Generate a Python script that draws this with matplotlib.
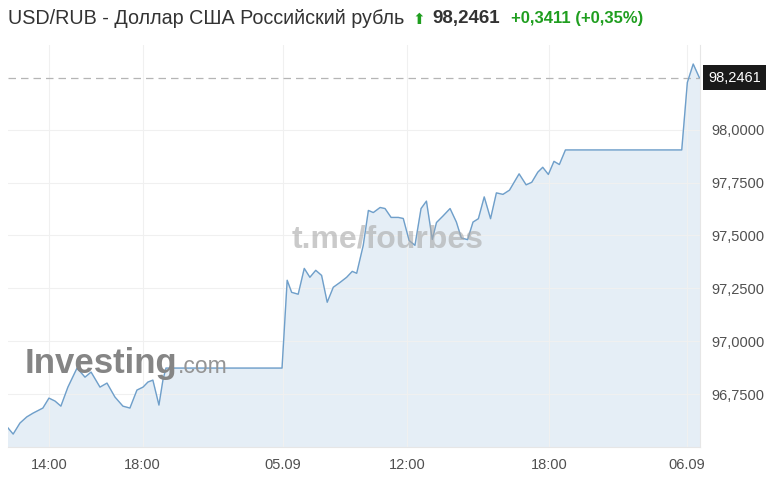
import matplotlib
matplotlib.use("Agg")
import matplotlib.pyplot as plt
import matplotlib.transforms as mtransforms

plt.rcParams['font.family'] = ['Liberation Sans', 'DejaVu Sans']

# chart time in hours from 04.09 12:00 (night gap compressed as on the source chart)
hours = [0.25, 0.47, 0.76, 1.05, 1.32, 1.74, 2.0, 2.26, 2.51, 2.81, 3.2, 3.54, 3.8,
         4.18, 4.48, 4.82, 5.16, 5.46, 5.76, 6.02, 6.23, 6.44, 6.7, 6.87, 7.0, 11.96,
         12.18, 12.37, 12.65, 12.91, 13.15, 13.4, 13.65, 13.89, 14.15, 14.44, 14.72,
         14.96, 15.15, 15.43, 15.65, 15.86, 16.15, 16.36, 16.62, 16.93, 17.14, 17.39,
         17.64, 17.9, 18.13, 18.38, 18.56, 18.84, 19.14, 19.41, 19.62, 19.89, 20.12,
         20.35, 20.6, 20.87, 21.12, 21.4, 21.68, 22.09, 22.39, 22.63, 22.89, 23.1,
         23.34, 23.58, 23.81, 24.07, 29.04, 29.28, 29.53, 29.79]
rate = [96.590, 96.561, 96.613, 96.642, 96.660, 96.684, 96.731, 96.717, 96.693, 96.783,
        96.873, 96.830, 96.854, 96.783, 96.802, 96.736, 96.693, 96.684, 96.769, 96.783,
        96.807, 96.816, 96.698, 96.816, 96.873, 96.873,
        97.288, 97.231, 97.222, 97.344, 97.302, 97.335, 97.311, 97.184, 97.255, 97.278,
        97.302, 97.330, 97.321, 97.453, 97.618, 97.608, 97.632, 97.627, 97.585, 97.585,
        97.580, 97.476, 97.453, 97.627, 97.662, 97.481, 97.561, 97.592, 97.627, 97.563,
        97.488, 97.480, 97.563, 97.579, 97.682, 97.579, 97.701, 97.694, 97.714, 97.791,
        97.739, 97.751, 97.799, 97.822, 97.788, 97.850, 97.835, 97.904, 97.904, 98.223,
        98.310, 98.2461]

tick_pos = [2, 6, 12, 17.3, 23.37, 29.26]
tick_labels = ['14:00', '18:00', '05.09', '12:00', '18:00', '06.09']
y_ticks = [96.75, 97.0, 97.25, 97.5, 97.75, 98.0]

last = 98.2461
W, H = 775, 482

fig = plt.figure(figsize=(W / 100, H / 100), dpi=100)
ax = fig.add_axes([8 / W, 1 - 447 / H, 692 / W, 402 / H])

ax.fill_between(hours, rate, 96.0, color='#e5eef6', zorder=1)
ax.plot(hours, rate, color='#6f9fca', lw=1.0, zorder=3)
ax.axhline(last, color='#b5b5b5', lw=0.9, ls=(0, (6, 4)), zorder=2)

ax.set_xlim(0.25, 29.82)
ax.set_ylim(96.5, 98.4)
ax.set_xticks(tick_pos)
ax.set_xticklabels(tick_labels)
ax.set_yticks(y_ticks)
ax.set_yticklabels([f"{v:.4f}".replace('.', ',') for v in y_ticks])
ax.yaxis.tick_right()
ax.tick_params(length=0, labelsize=10.5, labelcolor='#505050')
ax.tick_params(axis='y', pad=8)
ax.tick_params(axis='x', pad=8)
ax.grid(color='#f0f0f0', lw=0.8, zorder=0)
for side in ['top', 'left']:
    ax.spines[side].set_visible(False)
ax.spines['right'].set_color('#e6e6e6')
ax.spines['bottom'].set_color('#e6e6e6')

# current price tag
trans = mtransforms.blended_transform_factory(ax.transAxes, ax.transData)
ax.text(1.012, last, "98,2461", transform=trans, va='center', ha='left',
        color='white', fontsize=10.5, zorder=5,
        bbox=dict(boxstyle='square,pad=0.35', fc='#1a1a1a', ec='none'))

# header
fig.text(8 / W, 1 - 19 / H, "USD/RUB - Доллар США Российский рубль", fontsize=14.2,
         color='#333333', va='center', ha='left')
fig.text(412 / W, 1 - 19 / H, "⬆", fontsize=11, color='#1f9e1f', va='center',
         ha='left', family='DejaVu Sans')
fig.text(432 / W, 1 - 19 / H, "98,2461", fontsize=13.5, fontweight='bold',
         color='#333333', va='center', ha='left')
fig.text(511 / W, 1 - 19 / H, "+0,3411 (+0,35%)", fontsize=12, fontweight='bold',
         color='#1f9e1f', va='center', ha='left')

# watermarks
fig.text(388 / W, 1 - 240 / H, "t.me/fourbes", fontsize=23, fontweight='bold',
         color='#a8a8a8', alpha=0.6, ha='center', va='center', zorder=10)
fig.text(25 / W, 1 - 373 / H, "Investing", fontsize=25, fontweight='bold',
         color='#858585', ha='left', va='baseline', zorder=10)
fig.text(178 / W, 1 - 373 / H, ".com", fontsize=16.5, color='#959595',
         ha='left', va='baseline', zorder=10)

fig.savefig("out.png", dpi=100)
